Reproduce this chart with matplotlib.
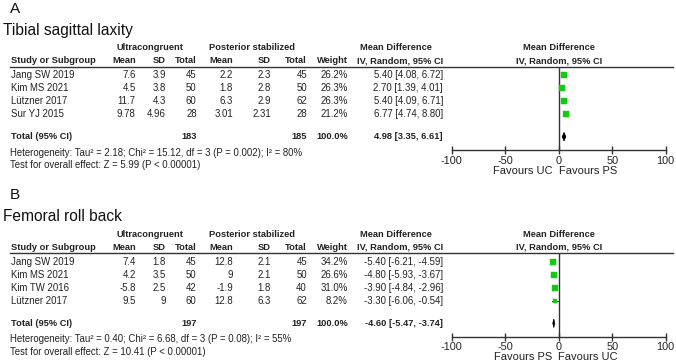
import matplotlib
matplotlib.use("Agg")
import matplotlib.pyplot as plt

plt.rcParams["font.family"] = ["Liberation Sans", "DejaVu Sans"]

# ---- data -------------------------------------------------------------
studies_a = ["Jang SW 2019", "Kim MS 2021", "Lützner 2017", "Sur YJ 2015"]
uc_mean_a = ["7.6", "4.5", "11.7", "9.78"]
uc_sd_a = ["3.9", "3.8", "4.3", "4.96"]
uc_n_a = [45, 50, 60, 28]
ps_mean_a = ["2.2", "1.8", "6.3", "3.01"]
ps_sd_a = ["2.3", "2.8", "2.9", "2.31"]
ps_n_a = [45, 50, 62, 28]
weight_a = [26.2, 26.3, 26.3, 21.2]
md_a = [5.40, 2.70, 5.40, 6.77]
lo_a = [4.08, 1.39, 4.09, 4.74]
hi_a = [6.72, 4.01, 6.71, 8.80]
total_a = (183, 185, 4.98, 3.35, 6.61)
het_a = "Heterogeneity: Tau² = 2.18; Chi² = 15.12, df = 3 (P = 0.002); I² = 80%"
test_a = "Test for overall effect: Z = 5.99 (P < 0.00001)"

studies_b = ["Jang SW 2019", "Kim MS 2021", "Kim TW 2016", "Lützner 2017"]
uc_mean_b = ["7.4", "4.2", "-5.8", "9.5"]
uc_sd_b = ["1.8", "3.5", "2.5", "9"]
uc_n_b = [45, 50, 42, 60]
ps_mean_b = ["12.8", "9", "-1.9", "12.8"]
ps_sd_b = ["2.1", "2.1", "1.8", "6.3"]
ps_n_b = [45, 50, 40, 62]
weight_b = [34.2, 26.6, 31.0, 8.2]
md_b = [-5.40, -4.80, -3.90, -3.30]
lo_b = [-6.21, -5.93, -4.84, -6.06]
hi_b = [-4.59, -3.67, -2.96, -0.54]
total_b = (197, 197, -4.60, -5.47, -3.74)
het_b = "Heterogeneity: Tau² = 0.40; Chi² = 6.68, df = 3 (P = 0.08); I² = 55%"
test_b = "Test for overall effect: Z = 10.41 (P < 0.00001)"

ticks = [-100, -50, 0, 50, 100]

# ---- layout (pixels) -------------------------------------------------
W, H = 676, 363
TXT = "#222222"
GREEN = "#11cc11"
FS = 6.95
FSB = 6.7

fig = plt.figure(figsize=(W / 100, H / 100), dpi=100)
bg = fig.add_axes([0, 0, 1, 1])
bg.set_xlim(0, W)
bg.set_ylim(H, 0)
bg.axis("off")

X_MIN, X_MAX = 451.7, 665.7  # pixel x of -100 / 100


def panel(y0, letter, title, studies, ucm, ucs, ucn, psm, pss, psn,
          wt, md, lo, hi, total, het, test, fav_left, fav_right):
    t = dict(fontsize=FS, color=TXT, va="center")
    b = dict(fontsize=FSB, color=TXT, va="center", fontweight="bold")
    bg.text(10, y0 - 52, letter, fontsize=11, color="#111111", va="center")
    bg.text(3, y0 - 30.5, title, fontsize=11.2, color="#111111", va="center")

    # group headers
    hb = dict(b, ha="center")
    bg.text(150, y0 - 13, "Ultracongruent", **hb)
    bg.text(252, y0 - 13, "Posterior stabilized", **hb)
    bg.text(396, y0 - 13, "Mean Difference", **hb)
    bg.text(558.7, y0 - 13, "Mean Difference", **hb)
    bg.text(11, y0, "Study or Subgroup", **b)
    hr = dict(b, ha="right")
    cols = [135.7, 166, 196.7, 233, 271, 307]
    for x, s in zip(cols, ["Mean", "SD", "Total", "Mean", "SD", "Total"]):
        bg.text(x, y0, s, **hr)
    bg.text(348, y0, "Weight", **hr)
    bg.text(443, y0, "IV, Random, 95% CI", **hr)
    bg.text(558.7, y0, "IV, Random, 95% CI", **hb)
    bg.plot([10, 673], [y0 + 6, y0 + 6], color="#333333", lw=1)

    rows = [y0 + 14.3 + 13 * i for i in range(len(studies))]
    for r, name, a, bb, c, d, e, f, w, m, l, h in zip(
            rows, studies, ucm, ucs, ucn, psm, pss, psn, wt, md, lo, hi):
        bg.text(11, r, name, **t)
        for x, s in zip(cols, [a, bb, c, d, e, f]):
            bg.text(x, r, str(s), **dict(t, ha="right"))
        bg.text(348, r, f"{w:.1f}%", **dict(t, ha="right"))
        bg.text(443, r, f"{m:.2f} [{l:.2f}, {h:.2f}]", **dict(t, ha="right"))

    ty = y0 + 76
    tb = dict(b, ha="right")
    bg.text(11, ty, "Total (95% CI)", **b)
    bg.text(196.7, ty, str(total[0]), **tb)
    bg.text(307, ty, str(total[1]), **tb)
    bg.text(348, ty, "100.0%", **tb)
    bg.text(443, ty, f"{total[2]:.2f} [{total[3]:.2f}, {total[4]:.2f}]", **tb)
    bg.text(10, y0 + 92, het, **t)
    bg.text(10, y0 + 104.5, test, **t)

    # forest plot axes: top at header line, bottom at scale line
    top, bot = y0 + 6, y0 + 89.3
    ax = fig.add_axes([X_MIN / W, 1 - bot / H, (X_MAX - X_MIN) / W, (bot - top) / H])
    ax.set_xlim(-100, 100)
    ax.set_ylim(bot, top)
    ax.patch.set_alpha(0)
    for s in ["top", "left", "right"]:
        ax.spines[s].set_visible(False)
    ax.spines["bottom"].set_color("#333333")
    ax.spines["bottom"].set_linewidth(1)
    ax.set_yticks([])
    ax.set_xticks(ticks)
    ax.set_xticklabels([str(v) for v in ticks])
    ax.tick_params(axis="x", direction="inout", length=6, width=1, color="#333333",
                   labelsize=7.8, labelcolor=TXT, pad=1)
    ax.axvline(0, color="#333333", lw=1)
    for r, w, m, l, h in zip(rows, wt, md, lo, hi):
        ax.plot([l, h], [r, r], color="#333333", lw=0.8)
        ax.plot(m, r, marker="s", ms=0.8 * w ** 0.5, color=GREEN, mec=GREEN, mew=0.3)
    dh = 4.2
    ax.fill([total[3], total[2], total[4], total[2]], [ty, ty - dh, ty, ty + dh],
            color="black", lw=0.6, ec="black")

    bg.text(523, y0 + 110, fav_left, fontsize=8, color=TXT, ha="center", va="center")
    bg.text(588, y0 + 110, fav_right, fontsize=8, color=TXT, ha="center", va="center")


panel(60.7, "A", "Tibial sagittal laxity", studies_a, uc_mean_a, uc_sd_a, uc_n_a,
      ps_mean_a, ps_sd_a, ps_n_a, weight_a, md_a, lo_a, hi_a, total_a, het_a, test_a,
      "Favours UC", "Favours PS")
panel(247.3, "B", "Femoral roll back", studies_b, uc_mean_b, uc_sd_b, uc_n_b,
      ps_mean_b, ps_sd_b, ps_n_b, weight_b, md_b, lo_b, hi_b, total_b, het_b, test_b,
      "Favours PS", "Favours UC")

fig.savefig("out.png", dpi=100)
